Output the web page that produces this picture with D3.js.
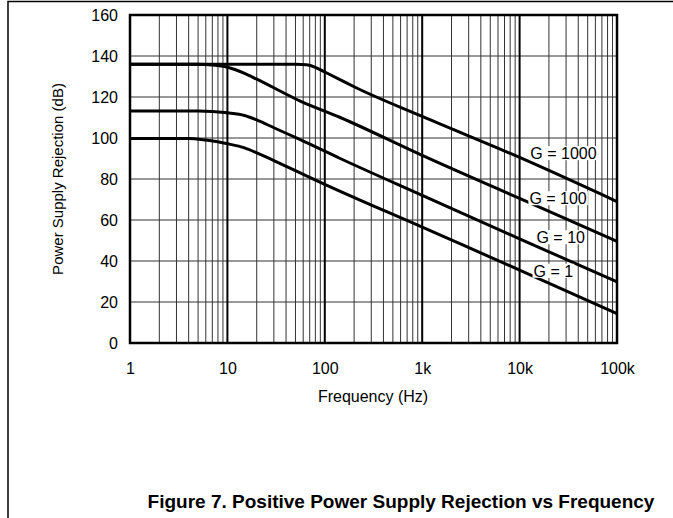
<!DOCTYPE html>
<meta charset="utf-8">
<style>

body {
  margin: 0;
  background: #fff;
}

text {
  font-family: "Liberation Sans", Arial, sans-serif;
  fill: #000;
}

.grid line {
  stroke: #333;
  stroke-width: 1;
}

.grid line.decade {
  stroke: #000;
  stroke-width: 2;
}

.curve {
  fill: none;
  stroke: #000;
  stroke-width: 3;
}

</style>
<svg width="673" height="518"></svg>
<script src="https://d3js.org/d3.v7.min.js"></script>
<script>

// curves: frequency (Hz) and rejection (dB)
var g1000Freq = [1, 10, 50, 65, 80, 100, 150, 200, 1000, 10000, 100000];
var g1000Db   = [136, 136, 136, 135.7, 134.5, 132.2, 128, 125, 110.5, 90.5, 69];

var g100Freq = [1, 5, 7, 10, 15, 20, 56, 144, 1000, 10000, 100000];
var g100Db   = [136, 136, 135.6, 134.5, 131.5, 128.7, 118, 110, 91.5, 70.5, 49.6];

var g10Freq = [1, 5, 10, 15, 20, 30, 56, 144, 1000, 10000, 100000];
var g10Db   = [113.2, 113.2, 112.3, 111, 108.8, 105, 99.2, 90, 72, 50.8, 29.8];

var g1Freq = [1, 4, 6, 10, 15, 20, 30, 56, 70, 1000, 10000, 100000];
var g1Db   = [99.8, 99.8, 99, 97.2, 95.2, 92.8, 89, 83, 80.8, 56.5, 35.6, 14.3];

var gainLabels = ["G = 1000", "G = 100", "G = 10", "G = 1"];

var xTicks = [1, 10, 100, 1000, 10000, 100000];
var xTickLabels = ["1", "10", "100", "1k", "10k", "100k"];
var yTicks = [0, 20, 40, 60, 80, 100, 120, 140, 160];

var titleText = "Figure 7. Positive Power Supply Rejection vs Frequency";

var svg = d3.select("svg"),
    margin = {top: 15, right: 56, bottom: 175, left: 130},
    width = 617 - margin.left,
    height = 343 - margin.top;

// page frame (top and left rule)
svg.append("path")
    .attr("d", "M8,518V1.5H673")
    .attr("fill", "none")
    .attr("stroke", "#000")
    .attr("stroke-width", 1.5);

var g = svg.append("g")
    .attr("transform", "translate(" + margin.left + "," + margin.top + ")");

var x = d3.scaleLog().domain([1, 100000]).range([0, width]);
var y = d3.scaleLinear().domain([0, 160]).range([height, 0]);

// vertical grid: every 2..9 inside each decade
var minor = [];
for (var dec = 1; dec < 100000; dec *= 10) {
  for (var k = 2; k <= 9; k++) minor.push(dec * k);
}

var grid = g.append("g").attr("class", "grid");

grid.selectAll("line.minor")
    .data(minor)
  .enter().append("line")
    .attr("class", "minor")
    .attr("x1", function(d) { return x(d); })
    .attr("x2", function(d) { return x(d); })
    .attr("y1", 0)
    .attr("y2", height);

grid.selectAll("line.h")
    .data(yTicks)
  .enter().append("line")
    .attr("class", "h")
    .attr("x1", 0)
    .attr("x2", width)
    .attr("y1", function(d) { return y(d); })
    .attr("y2", function(d) { return y(d); });

grid.selectAll("line.decade")
    .data(xTicks)
  .enter().append("line")
    .attr("class", "decade")
    .attr("x1", function(d) { return x(d); })
    .attr("x2", function(d) { return x(d); })
    .attr("y1", 0)
    .attr("y2", height);

// curves
var series = [
  {f: g1000Freq, v: g1000Db},
  {f: g100Freq, v: g100Db},
  {f: g10Freq, v: g10Db},
  {f: g1Freq, v: g1Db}
];

var line = d3.line()
    .x(function(d) { return x(d[0]); })
    .y(function(d) { return y(d[1]); })
    .curve(d3.curveMonotoneX);

g.selectAll("path.curve")
    .data(series)
  .enter().append("path")
    .attr("class", "curve")
    .attr("d", function(s) { return line(d3.zip(s.f, s.v)); });

// gain labels with white backing
var labelAt = [[12900, 89.7], [12600, 67.7], [14900, 48.7], [13900, 32.3]];

var labels = g.selectAll("g.lab")
    .data(gainLabels)
  .enter().append("g")
    .attr("class", "lab")
    .attr("transform", function(d, i) {
      return "translate(" + x(labelAt[i][0]) + "," + y(labelAt[i][1]) + ")";
    });

labels.append("text")
    .attr("font-size", 16)
    .text(function(d) { return d; });

labels.insert("rect", "text")
    .each(function() {
      var bb = this.parentNode.querySelector("text").getBBox();
      d3.select(this)
          .attr("x", bb.x - 1)
          .attr("y", bb.y + 1)
          .attr("width", bb.width + 2)
          .attr("height", bb.height - 3)
          .attr("fill", "#fff");
    });

// plot border
g.append("rect")
    .attr("width", width)
    .attr("height", height)
    .attr("fill", "none")
    .attr("stroke", "#000")
    .attr("stroke-width", 2.5);

// axes (labels only)
var xAxis = g.append("g")
    .attr("transform", "translate(0," + height + ")")
    .call(d3.axisBottom(x).tickValues(xTicks).tickSize(0).tickPadding(20)
        .tickFormat(function(d, i) { return xTickLabels[i]; }));

var yAxis = g.append("g")
    .call(d3.axisLeft(y).tickValues(yTicks).tickSize(0).tickPadding(12));

[xAxis, yAxis].forEach(function(a) {
  a.select(".domain").remove();
  a.selectAll("text")
      .attr("font-family", "'Liberation Sans', Arial, sans-serif")
      .attr("font-size", 16)
      .attr("fill", "#000");
});

svg.append("text")
    .attr("x", 373)
    .attr("y", 402)
    .attr("text-anchor", "middle")
    .attr("font-size", 16)
    .text("Frequency (Hz)");

svg.append("text")
    .attr("transform", "translate(63,179) rotate(-90)")
    .attr("text-anchor", "middle")
    .attr("font-size", 15)
    .text("Power Supply Rejection (dB)");

svg.append("text")
    .attr("x", 401)
    .attr("y", 508)
    .attr("text-anchor", "middle")
    .attr("font-size", 19)
    .attr("font-weight", "bold")
    .text(titleText);

</script>
